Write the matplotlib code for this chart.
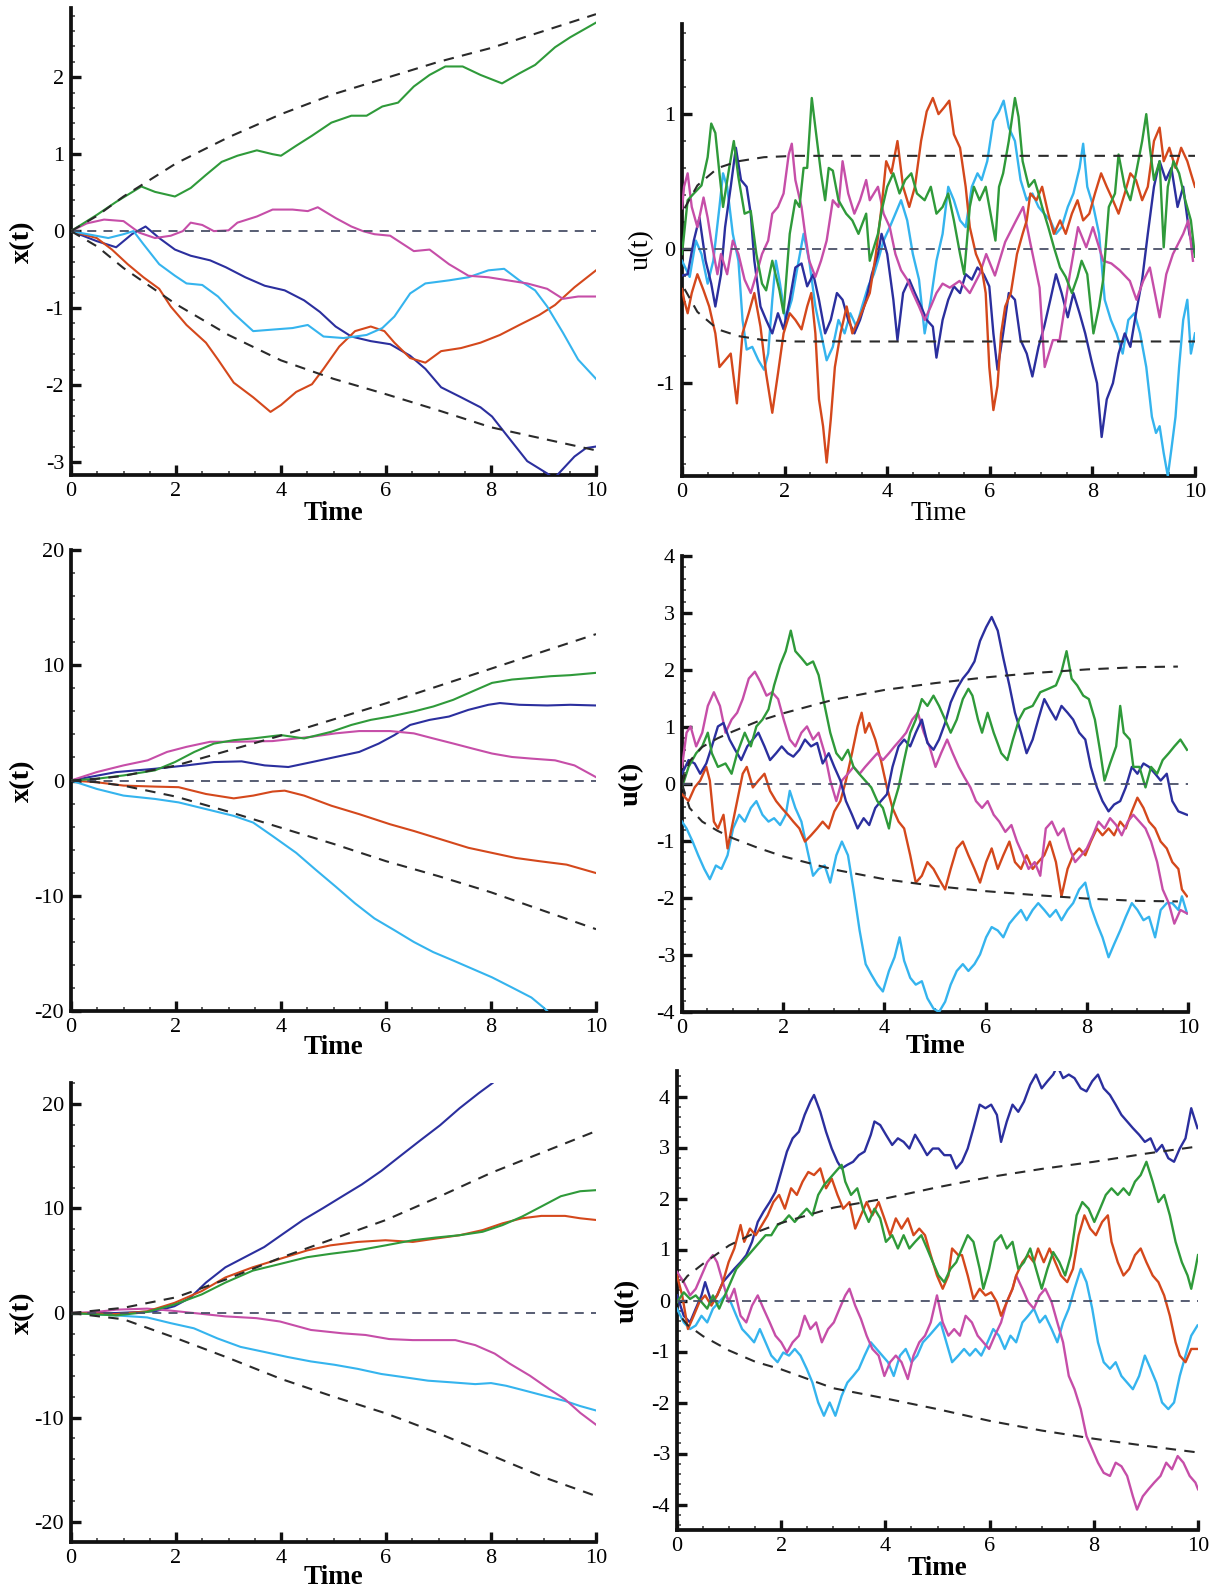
import numpy as np
import matplotlib
matplotlib.use("Agg")
import matplotlib.pyplot as plt
from matplotlib.ticker import MultipleLocator

plt.rcParams["font.family"] = ["Liberation Serif", "DejaVu Serif"]
plt.rcParams["axes.unicode_minus"] = False

GREEN = "#2f9a3a"
MAGENTA = "#c64ea8"
NAVY = "#2b2f9e"
CYAN = "#35b4ee"
ORANGE = "#d4481c"
DASH = "#2a2a2a"
ZERO = "#4a5068"

TIME_TICKS = [0, 2, 4, 6, 8, 10]

# ---------------- panel 1: x(t), small noise ----------------
p1_env_t = [0, 0.5, 1, 2, 3, 4, 5, 6, 7, 8, 9, 10]
p1_env_hi = [0, 0.2, 0.45, 0.88, 1.22, 1.52, 1.78, 1.99, 2.2, 2.38, 2.6, 2.82]
p1_env_lo = [0, -0.2, -0.48, -0.95, -1.35, -1.68, -1.92, -2.12, -2.33, -2.55, -2.7, -2.85]

p1_green_t = [0, 0.49, 0.86, 1.34, 1.6, 1.98, 2.28, 2.57, 2.87, 3.17, 3.54, 3.84, 4.0, 4.29, 4.59, 4.96,
              5.34, 5.63, 5.93, 6.23, 6.53, 6.83, 7.13, 7.46, 7.8, 8.21, 8.54, 8.84, 9.22, 9.51, 10]
p1_green_v = [0, 0.21, 0.38, 0.58, 0.51, 0.45, 0.56, 0.73, 0.9, 0.98, 1.05, 1.0, 0.98, 1.11, 1.24, 1.41,
              1.5, 1.5, 1.62, 1.67, 1.88, 2.03, 2.14, 2.14, 2.03, 1.92, 2.05, 2.16, 2.39, 2.52, 2.71]

p1_magenta_t = [0, 0.3, 0.63, 1.0, 1.3, 1.6, 1.9, 2.13, 2.28, 2.5, 2.72, 3.0, 3.17, 3.54, 3.84, 4.22, 4.51,
                4.7, 5.04, 5.34, 5.56, 5.78, 6.08, 6.53, 6.83, 7.2, 7.57, 7.95, 8.32, 8.69, 9.07, 9.37, 9.66, 10]
p1_magenta_v = [0, 0.1, 0.15, 0.13, -0.02, -0.09, -0.06, 0, 0.11, 0.08, 0, 0.01, 0.11, 0.19, 0.28, 0.28, 0.26,
                0.31, 0.17, 0.06, 0, -0.04, -0.06, -0.26, -0.24, -0.43, -0.58, -0.6, -0.64, -0.68, -0.75, -0.88, -0.85, -0.85]

p1_navy_t = [0, 0.49, 0.86, 1.16, 1.42, 1.68, 1.98, 2.28, 2.65, 2.95, 3.32, 3.69, 4.07, 4.44, 4.74, 5.04, 5.34,
             5.71, 6.08, 6.46, 6.75, 7.05, 7.43, 7.8, 8.02, 8.25, 8.47, 8.69, 9.07, 9.2, 9.29, 9.59, 9.81, 10]
p1_navy_v = [0, -0.13, -0.21, -0.04, 0.06, -0.09, -0.24, -0.32, -0.38, -0.47, -0.6, -0.71, -0.77, -0.9, -1.05,
             -1.24, -1.37, -1.43, -1.47, -1.62, -1.79, -2.03, -2.16, -2.29, -2.41, -2.61, -2.8, -2.99, -3.15,
             -3.22, -3.15, -2.93, -2.82, -2.8]

p1_cyan_t = [0, 0.71, 1.0, 1.19, 1.38, 1.68, 1.98, 2.2, 2.5, 2.8, 3.1, 3.47, 3.84, 4.22, 4.51, 4.81, 5.19, 5.63,
             5.93, 6.16, 6.46, 6.75, 7.2, 7.57, 7.95, 8.25, 8.54, 8.84, 9.07, 9.37, 9.66, 10]
p1_cyan_v = [0, -0.09, -0.04, 0, -0.17, -0.43, -0.58, -0.68, -0.7, -0.85, -1.07, -1.3, -1.28, -1.26, -1.22, -1.37,
             -1.39, -1.35, -1.26, -1.11, -0.81, -0.68, -0.64, -0.6, -0.51, -0.49, -0.64, -0.77, -0.98, -1.32, -1.67, -1.92]

p1_orange_t = [0, 0.49, 0.78, 1.08, 1.38, 1.68, 1.9, 2.2, 2.57, 2.8, 3.1, 3.47, 3.8, 4.0, 4.29, 4.59, 4.81, 5.11,
               5.41, 5.71, 5.97, 6.16, 6.46, 6.75, 7.05, 7.43, 7.8, 8.17, 8.54, 8.92, 9.22, 9.59, 10]
p1_orange_v = [0, -0.09, -0.24, -0.43, -0.6, -0.75, -0.98, -1.22, -1.45, -1.67, -1.97, -2.16, -2.35, -2.26, -2.09,
               -1.99, -1.79, -1.5, -1.3, -1.24, -1.3, -1.45, -1.65, -1.71, -1.56, -1.52, -1.45, -1.35, -1.22, -1.09,
               -0.96, -0.73, -0.51]

# ---------------- panel 2: u(t), small noise ----------------
p2_env_t = [0.05, 0.3, 0.7, 1.1, 1.6, 2.2, 10]
p2_env_hi = [0.3, 0.47, 0.6, 0.65, 0.68, 0.69, 0.69]
p2_env_lo = [-0.3, -0.47, -0.6, -0.65, -0.68, -0.69, -0.69]

p2_green = [(0, -0.04), (0.11, 0.36), (0.23, 0.41), (0.38, 0.47), (0.5, 0.68), (0.57, 0.93), (0.65, 0.86),
            (0.73, 0.56), (0.8, 0.31), (0.92, 0.6), (1.01, 0.8), (1.1, 0.53), (1.22, 0.26), (1.34, 0.28),
            (1.45, -0.04), (1.56, -0.26), (1.64, -0.31), (1.76, -0.09), (1.9, -0.31), (1.98, -0.48), (2.1, 0.11),
            (2.21, 0.36), (2.29, 0.31), (2.37, 0.6), (2.44, 0.6), (2.53, 1.12), (2.6, 0.9), (2.71, 0.56),
            (2.79, 0.36), (2.86, 0.6), (2.94, 0.58), (3.05, 0.36), (3.2, 0.26), (3.32, 0.21), (3.44, 0.11),
            (3.59, 0.26), (3.66, -0.09), (3.82, 0.11), (3.89, 0.28), (4.0, 0.46), (4.12, 0.56), (4.24, 0.41),
            (4.35, 0.51), (4.47, 0.56), (4.58, 0.41), (4.73, 0.36), (4.85, 0.46), (4.96, 0.26), (5.08, 0.31),
            (5.19, 0.41), (5.3, 0.21), (5.42, -0.04), (5.5, -0.19), (5.61, 0.31), (5.69, 0.46), (5.8, 0.36),
            (5.92, 0.46), (6.03, 0.23), (6.11, 0.06), (6.18, 0.46), (6.26, 0.56), (6.37, 0.8), (6.49, 1.12),
            (6.56, 0.98), (6.64, 0.65), (6.76, 0.46), (6.87, 0.51), (6.95, 0.41), (7.02, 0.31), (7.14, 0.16),
            (7.25, 0.01), (7.37, -0.14), (7.48, -0.21), (7.6, -0.33), (7.71, -0.21), (7.79, -0.09), (7.9, -0.19),
            (8.02, -0.63), (8.13, -0.43), (8.21, -0.23), (8.32, 0.31), (8.44, 0.41), (8.51, 0.7), (8.63, 0.46),
            (8.74, 0.36), (8.85, 0.56), (8.97, 0.8), (9.05, 1.0), (9.12, 0.75), (9.2, 0.51), (9.31, 0.65),
            (9.39, 0.01), (9.47, 0.46), (9.58, 0.65), (9.69, 0.56), (9.81, 0.36), (9.92, 0.21), (10, -0.06)]

p2_magenta = [(0.0, 0.3), (0.04, 0.46), (0.11, 0.56), (0.19, 0.31), (0.3, 0.16), (0.42, 0.38), (0.5, 0.23),
              (0.57, 0.06), (0.69, -0.19), (0.76, -0.04), (0.88, -0.19), (0.99, 0.06), (1.1, -0.04), (1.22, -0.23),
              (1.34, -0.33), (1.45, -0.19), (1.56, -0.04), (1.68, 0.06), (1.76, 0.26), (1.87, 0.31), (1.98, 0.41),
              (2.08, 0.7), (2.14, 0.78), (2.21, 0.51), (2.33, 0.31), (2.4, 0.11), (2.48, -0.09), (2.6, -0.21),
              (2.71, -0.09), (2.82, 0.06), (2.94, 0.36), (3.05, 0.31), (3.13, 0.65), (3.24, 0.41), (3.36, 0.26),
              (3.47, 0.36), (3.59, 0.51), (3.66, 0.36), (3.82, 0.46), (3.93, 0.26), (4.05, 0.16), (4.16, -0.04),
              (4.27, -0.16), (4.39, -0.23), (4.5, -0.33), (4.62, -0.43), (4.73, -0.53), (4.85, -0.43),
              (4.96, -0.33), (5.08, -0.26), (5.22, -0.29), (5.41, -0.24), (5.61, -0.33), (5.8, -0.19),
              (5.93, -0.04), (6.1, -0.2), (6.3, 0.05), (6.5, 0.2), (6.65, 0.31), (6.78, 0.06), (6.97, -0.29),
              (7.07, -0.88), (7.23, -0.68), (7.36, -0.68), (7.56, -0.19), (7.72, 0.16), (7.88, 0.01), (8.01, 0.16),
              (8.21, -0.09), (8.37, -0.11), (8.53, -0.16), (8.73, -0.24), (8.86, -0.38), (8.99, -0.24),
              (9.12, -0.14), (9.31, -0.51), (9.44, -0.19), (9.57, -0.04), (9.77, 0.11), (9.87, 0.21), (9.96, -0.09)]

p2_navy = [(0, -0.2), (0.11, -0.19), (0.23, 0.06), (0.34, 0.23), (0.46, -0.09), (0.57, -0.26), (0.65, -0.43),
           (0.76, -0.19), (0.84, 0.16), (0.95, 0.46), (1.05, 0.75), (1.15, 0.51), (1.26, 0.46), (1.34, 0.26),
           (1.41, -0.09), (1.53, -0.43), (1.64, -0.53), (1.76, -0.63), (1.87, -0.48), (1.98, -0.6), (2.1, -0.38),
           (2.21, -0.14), (2.33, -0.11), (2.44, -0.28), (2.56, -0.19), (2.67, -0.38), (2.79, -0.63), (2.9, -0.53),
           (3.02, -0.33), (3.13, -0.38), (3.24, -0.53), (3.36, -0.63), (3.47, -0.53), (3.59, -0.38), (3.7, -0.19),
           (3.82, -0.04), (3.89, 0.11), (4.0, -0.04), (4.12, -0.38), (4.2, -0.68), (4.31, -0.33), (4.43, -0.23),
           (4.54, -0.33), (4.66, -0.43), (4.77, -0.53), (4.89, -0.58), (4.96, -0.81), (5.08, -0.53), (5.19, -0.38),
           (5.3, -0.28), (5.42, -0.33), (5.53, -0.19), (5.65, -0.23), (5.76, -0.14), (5.88, -0.19), (5.99, -0.28),
           (6.07, -0.63), (6.15, -0.9), (6.26, -0.63), (6.37, -0.33), (6.49, -0.38), (6.6, -0.68), (6.72, -0.78),
           (6.83, -0.95), (6.95, -0.73), (7.06, -0.58), (7.18, -0.38), (7.29, -0.19), (7.4, -0.33), (7.52, -0.51),
           (7.63, -0.33), (7.75, -0.48), (7.86, -0.63), (7.98, -0.83), (8.09, -1.0), (8.18, -1.4), (8.28, -1.12),
           (8.4, -1.0), (8.51, -0.78), (8.63, -0.63), (8.74, -0.73), (8.85, -0.48), (8.97, -0.23), (9.08, 0.11),
           (9.2, 0.46), (9.31, 0.65), (9.43, 0.51), (9.54, 0.6), (9.66, 0.31), (9.77, 0.46), (9.89, 0.11),
           (10, -0.04)]

p2_cyan = [(0, -0.09), (0.15, -0.21), (0.27, 0.06), (0.38, -0.04), (0.5, -0.26), (0.61, -0.09), (0.73, 0.31),
           (0.8, 0.56), (0.88, 0.46), (0.99, 0.11), (1.1, -0.09), (1.18, -0.53), (1.26, -0.75), (1.37, -0.73),
           (1.49, -0.83), (1.6, -0.9), (1.68, -0.78), (1.76, -0.38), (1.83, -0.09), (1.91, -0.26), (2.02, -0.53),
           (2.14, -0.38), (2.25, -0.14), (2.37, 0.11), (2.48, -0.09), (2.6, -0.43), (2.71, -0.63), (2.82, -0.83),
           (2.94, -0.73), (3.05, -0.53), (3.17, -0.63), (3.28, -0.48), (3.4, -0.58), (3.51, -0.43), (3.63, -0.28),
           (3.74, -0.19), (3.82, -0.09), (3.93, 0.06), (4.05, 0.16), (4.16, 0.26), (4.27, 0.36), (4.39, 0.21),
           (4.5, -0.04), (4.62, -0.23), (4.73, -0.63), (4.85, -0.38), (4.96, -0.09), (5.08, 0.11), (5.19, 0.46),
           (5.3, 0.36), (5.42, 0.21), (5.53, 0.16), (5.65, 0.46), (5.76, 0.56), (5.84, 0.51), (5.95, 0.65),
           (6.07, 0.95), (6.18, 1.02), (6.27, 1.1), (6.37, 0.9), (6.49, 0.8), (6.6, 0.51), (6.72, 0.36),
           (6.83, 0.41), (6.95, 0.31), (7.06, 0.26), (7.18, 0.21), (7.29, 0.11), (7.4, 0.16), (7.52, 0.31),
           (7.63, 0.41), (7.75, 0.6), (7.82, 0.78), (7.9, 0.46), (8.02, 0.31), (8.13, 0.11), (8.24, -0.38),
           (8.36, -0.53), (8.47, -0.63), (8.59, -0.78), (8.7, -0.53), (8.82, -0.48), (8.93, -0.63), (9.05, -0.88),
           (9.16, -1.25), (9.24, -1.37), (9.31, -1.32), (9.39, -1.52), (9.47, -1.69), (9.54, -1.49),
           (9.62, -1.25), (9.69, -0.88), (9.77, -0.53), (9.85, -0.38), (9.92, -0.78), (10, -0.63)]

p2_orange = [(0, -0.3), (0.04, -0.38), (0.11, -0.48), (0.19, -0.33), (0.3, -0.19), (0.42, -0.31), (0.53, -0.43),
             (0.65, -0.63), (0.73, -0.88), (0.84, -0.83), (0.95, -0.78), (1.07, -1.15), (1.18, -0.63),
             (1.3, -0.48), (1.41, -0.33), (1.53, -0.58), (1.64, -0.93), (1.76, -1.22), (1.87, -0.93),
             (1.98, -0.63), (2.1, -0.48), (2.21, -0.53), (2.33, -0.6), (2.44, -0.43), (2.52, -0.33), (2.6, -0.63),
             (2.67, -1.12), (2.75, -1.32), (2.82, -1.59), (2.9, -1.27), (2.98, -0.88), (3.09, -0.63),
             (3.21, -0.43), (3.32, -0.63), (3.44, -0.53), (3.55, -0.43), (3.66, -0.33), (3.78, -0.04),
             (3.89, 0.31), (3.98, 0.65), (4.08, 0.56), (4.2, 0.8), (4.31, 0.46), (4.43, 0.31), (4.54, 0.46),
             (4.66, 0.8), (4.77, 1.02), (4.89, 1.12), (5.0, 1.0), (5.11, 1.05), (5.21, 1.1), (5.3, 0.85),
             (5.42, 0.75), (5.53, 0.46), (5.61, 0.16), (5.73, -0.04), (5.84, -0.14), (5.92, -0.33), (5.99, -0.88),
             (6.07, -1.2), (6.15, -1.02), (6.22, -0.63), (6.3, -0.43), (6.41, -0.33), (6.53, -0.04), (6.64, 0.11),
             (6.72, 0.21), (6.79, 0.41), (6.91, 0.36), (7.02, 0.46), (7.14, 0.26), (7.25, 0.11), (7.37, 0.21),
             (7.48, 0.11), (7.6, 0.26), (7.71, 0.36), (7.82, 0.21), (7.94, 0.26), (8.05, 0.41), (8.17, 0.56),
             (8.28, 0.46), (8.4, 0.36), (8.51, 0.26), (8.63, 0.41), (8.74, 0.56), (8.85, 0.51), (8.97, 0.36),
             (9.08, 0.46), (9.2, 0.8), (9.31, 0.9), (9.39, 0.65), (9.5, 0.75), (9.62, 0.6), (9.73, 0.75),
             (9.85, 0.65), (9.92, 0.56), (10, 0.46)]

# ---------------- panel 3: x(t), medium noise ----------------
p3_env_t = [0, 0.5, 1, 2, 3, 4, 5, 6, 7, 8, 9, 10]
p3_env_hi = [0, 0.15, 0.4, 1.3, 2.6, 3.9, 5.3, 6.7, 8.2, 9.7, 11.2, 12.7]
p3_env_lo = [0, -0.15, -0.45, -1.4, -2.7, -4.1, -5.5, -7.0, -8.3, -9.7, -11.3, -12.9]

p3_green_t = [0, 0.49, 1.0, 1.6, 1.98, 2.35, 2.72, 3.1, 3.47, 4.0, 4.44, 4.96, 5.34, 5.71, 6.08, 6.53, 6.9,
              7.28, 7.65, 8.02, 8.4, 8.77, 9.14, 9.51, 10]
p3_green_v = [0, 0.15, 0.44, 0.88, 1.6, 2.48, 3.2, 3.5, 3.65, 3.94, 3.65, 4.23, 4.82, 5.26, 5.55, 5.99, 6.42,
              7.0, 7.74, 8.47, 8.76, 8.9, 9.05, 9.14, 9.34]

p3_magenta_t = [0, 0.49, 1.0, 1.46, 1.83, 2.2, 2.65, 3.1, 3.84, 4.59, 5.04, 5.49, 6.08, 6.53, 6.9, 7.28, 7.65,
                8.02, 8.4, 8.77, 9.22, 9.59, 10]
p3_magenta_v = [0, 0.73, 1.31, 1.75, 2.48, 2.92, 3.36, 3.36, 3.42, 3.8, 4.09, 4.29, 4.29, 4.09, 3.65, 3.21, 2.77,
                2.34, 2.04, 1.9, 1.75, 1.31, 0.29]

p3_navy_t = [0, 0.86, 1.6, 2.2, 2.72, 3.25, 3.69, 4.14, 4.59, 5.04, 5.49, 5.86, 6.16, 6.46, 6.83, 7.2, 7.57,
             7.95, 8.17, 8.54, 9.07, 9.51, 10]
p3_navy_v = [0, 0.73, 1.02, 1.31, 1.6, 1.66, 1.31, 1.17, 1.6, 2.04, 2.48, 3.2, 3.94, 4.82, 5.26, 5.55, 6.13,
             6.57, 6.72, 6.57, 6.51, 6.57, 6.51]

p3_orange_t = [0, 0.49, 1.0, 1.6, 2.05, 2.57, 3.1, 3.47, 3.84, 4.07, 4.44, 4.96, 5.49, 6.08, 6.53, 7.05, 7.57,
               8.02, 8.47, 8.92, 9.44, 10]
p3_orange_v = [0, -0.15, -0.44, -0.53, -0.58, -1.17, -1.55, -1.31, -0.96, -0.88, -1.31, -2.19, -2.92, -3.8,
               -4.38, -5.11, -5.84, -6.28, -6.72, -7.0, -7.3, -8.03]

p3_cyan_t = [0, 0.49, 1.0, 1.6, 2.05, 2.57, 3.1, 3.47, 3.84, 4.29, 4.66, 5.04, 5.41, 5.78, 6.16, 6.53, 6.9,
             7.28, 7.65, 8.02, 8.4, 8.77, 9.0, 9.14]
p3_cyan_v = [0, -0.73, -1.31, -1.6, -1.9, -2.48, -3.07, -3.65, -4.82, -6.28, -7.74, -9.2, -10.66, -11.97,
             -12.99, -14.01, -14.89, -15.62, -16.35, -17.08, -17.96, -18.83, -19.7, -20.3]

# ---------------- panel 4: u(t), medium noise ----------------
p4_env_t = [0, 0.15, 0.4, 0.7, 1.0, 1.5, 2, 3, 4, 5, 6, 7, 8, 9, 9.8]
p4_env_hi = [0, 0.4, 0.65, 0.8, 0.92, 1.1, 1.24, 1.48, 1.65, 1.77, 1.87, 1.95, 2.01, 2.05, 2.06]
p4_env_lo = [0, -0.42, -0.66, -0.82, -0.95, -1.12, -1.27, -1.5, -1.67, -1.79, -1.88, -1.95, -2.01, -2.05, -2.06]

p4_green = [(0, -0.06), (0.13, 0.3), (0.28, 0.54), (0.4, 0.66), (0.51, 0.9), (0.59, 0.54), (0.71, 0.3),
            (0.86, 0.36), (0.98, 0.18), (1.09, 0.54), (1.24, 0.9), (1.36, 0.66), (1.47, 1.01), (1.59, 1.13),
            (1.71, 1.31), (1.82, 1.73), (1.94, 2.09), (2.05, 2.33), (2.15, 2.69), (2.24, 2.33), (2.36, 2.21),
            (2.47, 2.09), (2.59, 2.15), (2.7, 1.91), (2.82, 1.37), (2.93, 0.9), (3.05, 0.54), (3.16, 0.42),
            (3.28, 0.6), (3.39, 0.3), (3.5, 0.18), (3.62, 0.06), (3.74, -0.06), (3.86, -0.3), (3.97, -0.42),
            (4.09, -0.78), (4.16, -0.42), (4.28, -0.06), (4.39, 0.42), (4.51, 0.9), (4.62, 1.13), (4.74, 1.49),
            (4.85, 1.37), (4.97, 1.55), (5.08, 1.37), (5.2, 1.13), (5.31, 0.9), (5.43, 1.13), (5.55, 1.49),
            (5.66, 1.67), (5.74, 1.55), (5.85, 1.13), (5.93, 0.9), (6.04, 1.25), (6.16, 0.9), (6.31, 0.54),
            (6.43, 0.42), (6.54, 0.78), (6.66, 1.13), (6.77, 1.31), (6.93, 1.37), (7.08, 1.61), (7.24, 1.67),
            (7.39, 1.73), (7.5, 1.97), (7.6, 2.33), (7.7, 1.85), (7.81, 1.73), (7.93, 1.55), (8.04, 1.49),
            (8.16, 1.13), (8.27, 0.54), (8.35, 0.06), (8.46, 0.36), (8.58, 0.66), (8.66, 1.37), (8.73, 0.9),
            (8.85, 0.78), (8.92, 0.3), (9.04, 0.3), (9.16, -0.06), (9.27, 0.3), (9.39, 0.18), (9.5, 0.42),
            (9.62, 0.54), (9.73, 0.66), (9.85, 0.78), (9.98, 0.6)]

p4_navy = [(0, 0.18), (0.13, 0.42), (0.25, 0.36), (0.36, 0.18), (0.48, 0.36), (0.59, 0.66), (0.71, 1.01),
           (0.82, 1.07), (0.94, 0.78), (1.05, 0.6), (1.17, 0.42), (1.29, 0.66), (1.4, 0.78), (1.51, 0.9),
           (1.63, 0.66), (1.74, 0.42), (1.86, 0.54), (1.97, 0.66), (2.09, 0.54), (2.2, 0.48), (2.32, 0.6),
           (2.43, 0.78), (2.55, 0.66), (2.67, 0.72), (2.78, 0.36), (2.9, 0.54), (3.01, 0.3), (3.13, 0.06),
           (3.24, -0.3), (3.36, -0.54), (3.47, -0.78), (3.59, -0.6), (3.7, -0.72), (3.82, -0.42), (3.93, -0.3),
           (4.05, -0.18), (4.16, 0.3), (4.28, 0.66), (4.39, 0.78), (4.51, 0.66), (4.62, 0.9), (4.74, 1.13),
           (4.85, 0.72), (4.97, 0.6), (5.08, 0.78), (5.2, 1.07), (5.31, 1.43), (5.43, 1.67), (5.55, 1.85),
           (5.66, 1.97), (5.78, 2.15), (5.89, 2.51), (6.01, 2.75), (6.12, 2.93), (6.24, 2.69), (6.35, 2.21),
           (6.47, 1.73), (6.58, 1.25), (6.7, 0.9), (6.81, 0.54), (6.93, 0.78), (7.04, 1.13), (7.16, 1.49),
           (7.27, 1.31), (7.39, 1.13), (7.5, 1.37), (7.62, 1.25), (7.73, 1.13), (7.85, 0.9), (7.97, 0.78),
           (8.08, 0.3), (8.2, -0.06), (8.31, -0.3), (8.43, -0.48), (8.54, -0.36), (8.66, -0.3), (8.77, -0.06),
           (8.89, 0.3), (9.0, 0.18), (9.12, 0.36), (9.23, 0.3), (9.35, 0.18), (9.46, 0.06), (9.58, 0.18),
           (9.69, -0.3), (9.81, -0.48), (9.98, -0.54)]

p4_magenta = [(0, 0.3), (0.09, 0.9), (0.17, 1.01), (0.28, 0.66), (0.4, 0.9), (0.51, 1.37), (0.63, 1.61),
              (0.75, 1.37), (0.86, 0.9), (0.98, 1.13), (1.09, 1.25), (1.2, 1.49), (1.32, 1.85), (1.44, 1.97),
              (1.55, 1.79), (1.67, 1.55), (1.78, 1.61), (1.9, 1.49), (2.01, 1.13), (2.13, 0.78), (2.24, 0.66),
              (2.36, 0.9), (2.47, 1.01), (2.59, 0.78), (2.7, 0.9), (2.82, 0.54), (2.93, 0.06), (3.05, -0.3),
              (3.16, 0.06), (3.28, 0.18), (3.39, 0.3), (3.51, 0.18), (3.62, 0.3), (3.74, 0.42), (3.86, 0.54),
              (3.97, 0.42), (4.09, 0.54), (4.2, 0.66), (4.32, 0.78), (4.43, 0.9), (4.55, 1.13), (4.66, 1.25),
              (4.78, 0.9), (4.89, 0.66), (5.01, 0.3), (5.12, 0.54), (5.24, 0.78), (5.35, 0.54), (5.47, 0.3),
              (5.58, 0.12), (5.7, -0.06), (5.81, -0.3), (5.93, -0.42), (6.04, -0.3), (6.16, -0.54), (6.27, -0.66),
              (6.39, -0.84), (6.51, -0.72), (6.62, -1.01), (6.74, -1.25), (6.85, -1.49), (6.97, -1.37),
              (7.08, -1.61), (7.19, -0.78), (7.31, -0.66), (7.43, -0.9), (7.54, -0.78), (7.66, -1.13),
              (7.77, -1.37), (7.89, -1.25), (8.0, -1.13), (8.12, -0.9), (8.23, -0.66), (8.35, -0.78),
              (8.46, -0.6), (8.58, -0.72), (8.69, -0.9), (8.81, -0.66), (8.92, -0.54), (9.04, -0.66),
              (9.16, -0.78), (9.27, -1.01), (9.39, -1.37), (9.5, -1.85), (9.62, -2.09), (9.73, -2.45),
              (9.85, -2.21), (9.98, -2.27)]

p4_orange = [(0, -0.18), (0.13, -0.3), (0.25, -0.06), (0.36, 0.06), (0.48, 0.3), (0.55, 0.06), (0.63, -0.66),
             (0.71, -0.78), (0.82, -0.54), (0.9, -1.13), (0.98, -0.78), (1.09, -0.3), (1.2, 0.18), (1.28, 0.3),
             (1.4, -0.06), (1.51, 0.06), (1.63, 0.18), (1.74, -0.12), (1.86, -0.3), (1.97, -0.42), (2.09, -0.54),
             (2.2, -0.66), (2.32, -0.78), (2.43, -1.01), (2.55, -0.9), (2.67, -0.78), (2.78, -0.66), (2.9, -0.78),
             (3.01, -0.48), (3.13, -0.3), (3.24, 0.06), (3.36, 0.54), (3.47, 1.01), (3.55, 1.25), (3.62, 0.9),
             (3.7, 1.07), (3.82, 0.78), (3.93, 0.42), (4.05, -0.06), (4.16, -0.42), (4.28, -0.66), (4.39, -0.78),
             (4.51, -1.25), (4.62, -1.73), (4.74, -1.61), (4.85, -1.37), (4.97, -1.49), (5.08, -1.67),
             (5.2, -1.85), (5.31, -1.49), (5.43, -1.13), (5.55, -1.01), (5.66, -1.25), (5.78, -1.49),
             (5.89, -1.73), (6.01, -1.37), (6.12, -1.13), (6.24, -1.49), (6.35, -1.25), (6.47, -1.01),
             (6.58, -1.37), (6.7, -1.49), (6.81, -1.25), (6.93, -1.49), (7.04, -1.37), (7.16, -1.25),
             (7.27, -1.01), (7.39, -1.37), (7.5, -1.97), (7.62, -1.49), (7.73, -1.25), (7.85, -1.13),
             (7.97, -1.25), (8.08, -1.01), (8.2, -0.78), (8.31, -0.9), (8.43, -0.78), (8.54, -0.9), (8.66, -0.66),
             (8.77, -0.78), (8.89, -0.48), (9.0, -0.24), (9.12, -0.42), (9.23, -0.66), (9.35, -0.78),
             (9.46, -1.01), (9.58, -1.13), (9.69, -1.37), (9.81, -1.49), (9.88, -1.85), (9.98, -1.97)]

p4_cyan = [(0, -0.66), (0.09, -0.78), (0.21, -1.01), (0.32, -1.25), (0.44, -1.49), (0.55, -1.67), (0.67, -1.43),
           (0.78, -1.49), (0.9, -1.25), (1.01, -0.78), (1.13, -0.54), (1.24, -0.66), (1.36, -0.42), (1.47, -0.3),
           (1.59, -0.54), (1.71, -0.66), (1.82, -0.6), (1.94, -0.72), (2.05, -0.54), (2.13, -0.12), (2.24, -0.42),
           (2.36, -0.66), (2.47, -1.13), (2.59, -1.61), (2.7, -1.49), (2.82, -1.43), (2.93, -1.73), (3.05, -1.25),
           (3.16, -1.01), (3.28, -1.25), (3.39, -1.85), (3.51, -2.57), (3.63, -3.16), (3.74, -3.34),
           (3.86, -3.52), (3.97, -3.64), (4.09, -3.28), (4.2, -3.04), (4.3, -2.69), (4.39, -3.1), (4.51, -3.4),
           (4.62, -3.52), (4.74, -3.46), (4.85, -3.76), (4.97, -3.94), (5.08, -4.0), (5.2, -3.82), (5.31, -3.52),
           (5.43, -3.28), (5.55, -3.16), (5.66, -3.28), (5.78, -3.16), (5.89, -2.99), (6.01, -2.69),
           (6.12, -2.51), (6.24, -2.57), (6.35, -2.69), (6.47, -2.45), (6.58, -2.33), (6.7, -2.21),
           (6.81, -2.39), (6.93, -2.21), (7.04, -2.09), (7.16, -2.21), (7.27, -2.33), (7.39, -2.21), (7.5, -2.39),
           (7.62, -2.21), (7.73, -2.09), (7.85, -1.85), (7.97, -1.73), (8.08, -2.15), (8.2, -2.45), (8.31, -2.69),
           (8.43, -3.04), (8.54, -2.81), (8.66, -2.57), (8.77, -2.33), (8.89, -2.09), (9.0, -2.21), (9.12, -2.39),
           (9.23, -2.33), (9.35, -2.69), (9.46, -2.21), (9.58, -2.09), (9.69, -2.09), (9.81, -2.21),
           (9.88, -1.97), (9.98, -2.27)]

# ---------------- panel 5: x(t), large noise ----------------
p5_env_t = [0, 1, 2, 3, 4, 5, 6, 7, 8, 9, 10]
p5_env_hi = [0, 0.5, 1.5, 3.3, 5.3, 7.1, 8.9, 11.1, 13.4, 15.4, 17.4]
p5_env_lo = [0, -0.6, -2.4, -4.3, -6.3, -8.0, -9.6, -11.5, -13.6, -15.7, -17.5]

p5_navy_t = [0, 0.86, 1.6, 1.97, 2.27, 2.57, 2.94, 3.31, 3.68, 4.05, 4.42, 4.8, 5.17, 5.54, 5.91, 6.28, 6.65,
             7.03, 7.4, 7.77, 8.03]
p5_navy_v = [0, 0, 0.16, 0.65, 1.46, 2.91, 4.37, 5.34, 6.31, 7.61, 8.9, 10.03, 11.17, 12.3, 13.59, 15.05, 16.5,
             17.96, 19.58, 21.04, 22.0]

p5_orange_t = [0, 0.86, 1.45, 1.97, 2.49, 2.94, 3.46, 3.98, 4.5, 4.94, 5.46, 5.99, 6.51, 6.95, 7.4, 7.84, 8.22,
               8.59, 8.96, 9.41, 9.7, 10]
p5_orange_v = [0, -0.1, 0.16, 0.97, 2.1, 3.4, 4.37, 5.18, 5.99, 6.47, 6.8, 6.96, 6.8, 7.12, 7.44, 7.93, 8.58,
               9.06, 9.29, 9.29, 9.06, 8.9]

p5_green_t = [0, 0.86, 1.45, 1.97, 2.49, 2.94, 3.46, 3.98, 4.5, 4.94, 5.46, 5.99, 6.51, 6.95, 7.4, 7.84, 8.22,
              8.59, 8.96, 9.33, 9.7, 10]
p5_green_v = [0, -0.23, 0.1, 0.81, 1.78, 2.91, 4.05, 4.69, 5.34, 5.66, 5.99, 6.47, 6.96, 7.22, 7.44, 7.77,
              8.41, 9.22, 10.19, 11.17, 11.65, 11.75]

p5_magenta_t = [0, 0.48, 0.86, 1.45, 1.9, 2.34, 2.94, 3.53, 3.98, 4.57, 5.17, 5.61, 6.06, 6.51, 6.95, 7.32, 7.7,
                8.07, 8.36, 8.74, 9.11, 9.41, 9.7, 10]
p5_magenta_v = [0, 0.1, 0.32, 0.42, 0.23, 0, -0.32, -0.49, -0.81, -1.62, -1.94, -2.1, -2.49, -2.59, -2.59,
                -2.59, -3.07, -3.88, -4.85, -5.99, -7.28, -8.25, -9.55, -10.68]

p5_cyan_t = [0, 0.86, 1.45, 1.9, 2.34, 2.79, 3.23, 3.68, 4.13, 4.57, 5.02, 5.46, 5.91, 6.36, 6.8, 7.25, 7.7, 8.0,
             8.29, 8.66, 9.03, 9.41, 9.7, 10]
p5_cyan_v = [0, -0.23, -0.42, -0.97, -1.46, -2.43, -3.24, -3.72, -4.21, -4.63, -4.95, -5.34, -5.83, -6.15,
             -6.47, -6.63, -6.8, -6.7, -6.96, -7.44, -7.93, -8.41, -8.9, -9.32]

# ---------------- panel 6: u(t), large noise ----------------
p6_env_t = [0.1, 0.2, 0.5, 1, 1.5, 2, 3, 4, 5, 6, 7, 8, 9, 10]
p6_env_hi = [0.35, 0.48, 0.72, 1.08, 1.33, 1.52, 1.82, 2.0, 2.22, 2.42, 2.58, 2.72, 2.88, 3.02]
p6_env_lo = [-0.35, -0.48, -0.7, -0.98, -1.2, -1.35, -1.72, -1.92, -2.13, -2.36, -2.55, -2.71, -2.85, -2.98]

p6_navy = [(0, 0.1), (0.13, -0.3), (0.25, -0.43), (0.36, -0.16), (0.47, 0.1), (0.54, 0.36), (0.66, -0.03),
           (0.77, 0.1), (0.88, 0.36), (0.99, 0.49), (1.1, 0.62), (1.22, 0.75), (1.33, 0.89), (1.44, 1.15),
           (1.55, 1.54), (1.66, 1.74), (1.78, 1.93), (1.89, 2.13), (2.0, 2.52), (2.11, 2.92), (2.22, 3.18),
           (2.34, 3.31), (2.45, 3.64), (2.56, 3.9), (2.63, 4.03), (2.75, 3.7), (2.86, 3.31), (2.97, 2.98),
           (3.08, 2.72), (3.16, 2.59), (3.27, 2.66), (3.38, 2.72), (3.49, 2.85), (3.6, 2.92), (3.72, 3.25),
           (3.79, 3.51), (3.9, 3.44), (4.01, 3.25), (4.13, 3.05), (4.24, 3.18), (4.35, 3.11), (4.46, 2.98),
           (4.57, 3.25), (4.69, 3.05), (4.8, 2.85), (4.91, 2.98), (5.02, 2.98), (5.13, 2.85), (5.25, 2.85),
           (5.36, 2.59), (5.47, 2.72), (5.58, 2.98), (5.69, 3.38), (5.81, 3.84), (5.92, 3.77), (6.03, 3.84),
           (6.14, 3.64), (6.22, 3.11), (6.33, 3.51), (6.44, 3.84), (6.55, 3.7), (6.66, 3.9), (6.78, 4.23),
           (6.89, 4.43), (7.0, 4.16), (7.11, 4.3), (7.22, 4.43), (7.3, 4.6), (7.41, 4.36), (7.52, 4.43),
           (7.63, 4.36), (7.75, 4.16), (7.86, 4.1), (7.97, 4.3), (8.08, 4.43), (8.19, 4.16), (8.31, 4.03),
           (8.42, 3.84), (8.53, 3.64), (8.64, 3.51), (8.75, 3.38), (8.87, 3.25), (8.98, 3.11), (9.09, 3.18),
           (9.2, 2.92), (9.31, 3.05), (9.43, 2.79), (9.54, 2.72), (9.65, 2.98), (9.76, 3.18), (9.87, 3.77),
           (9.99, 3.38)]

p6_orange = [(0, 0.49), (0.1, 0.1), (0.21, -0.56), (0.32, -0.3), (0.43, -0.03), (0.54, 0.1), (0.66, -0.1),
             (0.77, 0.1), (0.88, 0.36), (0.99, 0.75), (1.1, 1.02), (1.22, 1.48), (1.29, 1.15), (1.4, 1.41),
             (1.51, 1.28), (1.63, 1.48), (1.74, 1.67), (1.85, 1.93), (1.96, 2.07), (2.07, 1.8), (2.19, 2.2),
             (2.3, 2.07), (2.41, 2.33), (2.52, 2.52), (2.63, 2.46), (2.75, 2.59), (2.86, 2.2), (2.97, 2.39),
             (3.08, 2.07), (3.19, 1.8), (3.31, 1.93), (3.42, 1.41), (3.53, 1.67), (3.64, 1.93), (3.75, 1.67),
             (3.87, 1.93), (3.98, 1.61), (4.09, 1.28), (4.2, 1.61), (4.31, 1.41), (4.43, 1.61), (4.54, 1.28),
             (4.65, 1.41), (4.76, 1.28), (4.87, 0.89), (4.99, 0.49), (5.1, 0.23), (5.21, 0.49), (5.28, 1.02),
             (5.4, 0.89), (5.47, 0.89), (5.58, 0.49), (5.69, 0.03), (5.81, 0.23), (5.92, 0.1), (6.03, 0.16),
             (6.14, -0.03), (6.22, -0.3), (6.33, -0.03), (6.44, 0.23), (6.51, 0.49), (6.63, 0.75), (6.74, 0.89),
             (6.85, 0.75), (6.93, 1.02), (7.04, 0.75), (7.15, 1.02), (7.26, 0.75), (7.37, 0.49), (7.49, 0.36),
             (7.6, 0.62), (7.71, 1.28), (7.82, 1.67), (7.93, 1.41), (8.04, 1.28), (8.16, 1.54), (8.27, 1.67),
             (8.34, 1.15), (8.46, 0.75), (8.57, 0.49), (8.68, 0.62), (8.79, 0.89), (8.9, 1.02), (9.01, 0.75),
             (9.13, 0.49), (9.24, 0.36), (9.35, 0.1), (9.46, -0.3), (9.57, -0.82), (9.65, -1.08), (9.76, -1.21),
             (9.87, -0.95), (9.99, -0.95)]

p6_green = [(0, -0.03), (0.13, 0.16), (0.25, 0.03), (0.36, 0.1), (0.47, -0.03), (0.58, -0.16), (0.69, 0.1),
            (0.81, -0.16), (0.92, 0.1), (1.03, 0.36), (1.14, 0.62), (1.25, 0.75), (1.37, 0.89), (1.48, 1.02),
            (1.59, 1.15), (1.7, 1.28), (1.81, 1.28), (1.93, 1.48), (2.04, 1.54), (2.15, 1.67), (2.26, 1.54),
            (2.37, 1.67), (2.49, 1.8), (2.6, 1.67), (2.71, 2.07), (2.82, 2.26), (2.93, 2.39), (3.04, 2.52),
            (3.16, 2.66), (3.23, 2.33), (3.34, 2.07), (3.46, 2.2), (3.57, 1.8), (3.68, 1.54), (3.79, 1.8),
            (3.9, 1.61), (4.01, 1.15), (4.13, 1.28), (4.24, 1.02), (4.35, 1.28), (4.46, 1.02), (4.57, 1.15),
            (4.69, 1.28), (4.8, 1.02), (4.91, 0.75), (5.02, 0.49), (5.13, 0.36), (5.25, 0.62), (5.36, 0.75),
            (5.47, 1.02), (5.58, 1.28), (5.69, 1.15), (5.81, 0.62), (5.88, 0.23), (5.99, 0.62), (6.1, 1.15),
            (6.22, 1.28), (6.33, 1.02), (6.44, 1.15), (6.55, 0.62), (6.66, 0.75), (6.78, 1.02), (6.89, 0.62),
            (7.0, 0.23), (7.11, 0.62), (7.22, 0.95), (7.34, 0.75), (7.45, 0.49), (7.56, 0.89), (7.67, 1.67),
            (7.78, 1.93), (7.9, 1.8), (8.01, 1.54), (8.12, 1.8), (8.23, 2.07), (8.34, 2.2), (8.46, 2.07),
            (8.57, 2.2), (8.68, 2.07), (8.79, 2.33), (8.9, 2.46), (9.01, 2.72), (9.13, 2.33), (9.24, 1.93),
            (9.35, 2.07), (9.46, 1.67), (9.57, 1.15), (9.69, 0.75), (9.8, 0.49), (9.87, 0.23), (9.95, 0.62),
            (10, 0.89)]

p6_magenta = [(0, 0.56), (0.13, 0.36), (0.25, 0.1), (0.36, 0.23), (0.47, 0.49), (0.58, 0.75), (0.69, 0.89),
              (0.77, 0.75), (0.88, 0.36), (0.99, -0.03), (1.1, 0.23), (1.22, -0.3), (1.33, -0.43), (1.44, -0.1),
              (1.55, 0.1), (1.66, -0.16), (1.78, -0.43), (1.89, -0.69), (2.0, -0.82), (2.11, -1.02), (2.22, -0.82),
              (2.34, -0.69), (2.45, -0.3), (2.56, -0.56), (2.67, -0.43), (2.78, -0.82), (2.9, -0.56), (3.01, -0.43),
              (3.12, -0.16), (3.23, 0.1), (3.31, 0.23), (3.42, -0.1), (3.53, -0.36), (3.64, -0.69), (3.75, -0.95),
              (3.87, -1.08), (3.98, -1.48), (4.09, -1.21), (4.2, -1.08), (4.31, -1.21), (4.43, -1.54),
              (4.54, -1.08), (4.65, -0.82), (4.76, -0.69), (4.87, -0.43), (4.99, 0.1), (5.1, -0.43), (5.21, -0.69),
              (5.32, -0.56), (5.43, -0.69), (5.54, -0.3), (5.66, -0.43), (5.77, -0.69), (5.88, -0.82),
              (5.99, -0.95), (6.1, -0.69), (6.22, -0.43), (6.33, -0.03), (6.44, 0.23), (6.51, 0.49), (6.63, 0.23),
              (6.74, -0.03), (6.85, -0.16), (6.96, 0.1), (7.07, 0.23), (7.19, -0.03), (7.3, -0.43), (7.41, -0.82),
              (7.52, -1.48), (7.63, -1.74), (7.75, -2.13), (7.86, -2.66), (7.97, -2.92), (8.08, -3.18),
              (8.19, -3.38), (8.31, -3.44), (8.42, -3.18), (8.53, -3.25), (8.64, -3.44), (8.75, -3.84),
              (8.83, -4.1), (8.94, -3.84), (9.05, -3.7), (9.16, -3.57), (9.28, -3.44), (9.39, -3.18), (9.5, -3.31),
              (9.61, -3.05), (9.72, -3.18), (9.84, -3.44), (9.95, -3.57), (10, -3.7)]

p6_cyan = [(0, -0.16), (0.13, -0.43), (0.25, -0.56), (0.36, -0.49), (0.47, -0.3), (0.58, -0.43), (0.69, -0.16),
           (0.81, -0.03), (0.92, 0.1), (1.03, -0.03), (1.14, -0.3), (1.25, -0.56), (1.37, -0.69), (1.48, -0.82),
           (1.59, -0.56), (1.7, -0.82), (1.81, -1.08), (1.93, -1.21), (2.04, -1.02), (2.15, -1.08), (2.26, -0.95),
           (2.37, -1.08), (2.49, -1.34), (2.6, -1.61), (2.71, -2.0), (2.82, -2.26), (2.93, -2.0), (3.04, -2.26),
           (3.16, -1.87), (3.27, -1.61), (3.38, -1.48), (3.49, -1.34), (3.6, -1.08), (3.72, -0.82), (3.83, -0.95),
           (3.94, -1.08), (4.05, -1.21), (4.16, -1.48), (4.28, -1.08), (4.39, -0.95), (4.5, -1.21), (4.61, -1.08),
           (4.72, -0.82), (4.84, -0.69), (4.95, -0.56), (5.06, -0.43), (5.17, -0.82), (5.28, -1.21), (5.4, -1.08),
           (5.51, -0.95), (5.62, -1.08), (5.73, -0.95), (5.84, -1.08), (5.96, -0.82), (6.07, -0.56), (6.18, -0.69),
           (6.29, -0.95), (6.4, -0.69), (6.51, -0.82), (6.63, -0.43), (6.74, -0.3), (6.85, -0.16), (6.96, -0.43),
           (7.07, -0.3), (7.19, -0.56), (7.3, -0.82), (7.41, -0.43), (7.52, -0.16), (7.63, 0.23), (7.75, 0.62),
           (7.86, 0.36), (7.97, -0.16), (8.08, -0.82), (8.19, -1.21), (8.31, -1.34), (8.42, -1.21), (8.53, -1.48),
           (8.64, -1.61), (8.75, -1.74), (8.87, -1.48), (8.98, -1.08), (9.09, -1.34), (9.2, -1.61), (9.31, -2.0),
           (9.43, -2.13), (9.54, -2.0), (9.65, -1.48), (9.76, -1.08), (9.87, -0.69), (9.99, -0.49)]


FIG_W, FIG_H = 1222, 1591
fig = plt.figure(figsize=(FIG_W / 100, FIG_H / 100), dpi=100)


def axes_px(left, right, top, bottom):
    return fig.add_axes([left / FIG_W, 1 - bottom / FIG_H, (right - left) / FIG_W, (bottom - top) / FIG_H])


def style(ax, ylim, ymajor, yminor, ylabel, bold, xlab_y, ylab_x):
    ax.set_xlim(0, 10)
    ax.set_ylim(*ylim)
    ax.set_xticks(TIME_TICKS)
    ax.xaxis.set_minor_locator(MultipleLocator(0.5))
    ax.yaxis.set_major_locator(MultipleLocator(ymajor))
    ax.yaxis.set_minor_locator(MultipleLocator(yminor))
    for s in ("top", "right"):
        ax.spines[s].set_visible(False)
    for s in ("left", "bottom"):
        ax.spines[s].set_linewidth(2.7)
        ax.spines[s].set_color("#111111")
    ax.tick_params(which="major", direction="in", length=7, width=2.4, labelsize=16, pad=5, color="#111111")
    ax.tick_params(which="minor", direction="in", length=3, width=1.1, color="#333333")
    weight = "bold" if bold else "normal"
    ax.set_xlabel("Time", fontsize=19.5, fontweight=weight)
    ax.xaxis.set_label_coords(0.5, xlab_y)
    ax.xaxis.label.set_verticalalignment("center")
    ax.set_ylabel(ylabel, fontsize=20.5, fontweight=weight)
    ax.yaxis.set_label_coords(ylab_x, 0.5)
    ax.yaxis.label.set_verticalalignment("center")
    ax.patch.set_alpha(0)


def envelope(ax, t, hi, lo):
    dash = (0, (5, 4))
    ax.plot([0, 10], [0, 0], color=ZERO, lw=1.3, ls=dash, zorder=4)
    ax.plot(t, hi, color=DASH, lw=1.5, ls=dash, zorder=4)
    ax.plot(t, lo, color=DASH, lw=1.5, ls=dash, zorder=4)


def path(ax, t, v, color, lw=1.5):
    ax.plot(t, v, color=color, lw=lw, solid_joinstyle="round", zorder=3)


def path_pairs(ax, pairs, color, lw=1.7):
    arr = np.array(pairs)
    path(ax, arr[:, 0], arr[:, 1], color, lw)


# panel 1
ax1 = axes_px(71, 596, 8, 475)
path(ax1, p1_navy_t, p1_navy_v, NAVY)
path(ax1, p1_orange_t, p1_orange_v, ORANGE)
path(ax1, p1_cyan_t, p1_cyan_v, CYAN)
path(ax1, p1_magenta_t, p1_magenta_v, MAGENTA)
path(ax1, p1_green_t, p1_green_v, GREEN)
envelope(ax1, p1_env_t, p1_env_hi, p1_env_lo)
style(ax1, (-3.17, 2.9), 1, 0.2, "x(t)", True, -0.082, -0.093)

# panel 2
ax2 = axes_px(682, 1195, 24, 476)
path_pairs(ax2, p2_cyan, CYAN)
path_pairs(ax2, p2_navy, NAVY)
path_pairs(ax2, p2_magenta, MAGENTA)
path_pairs(ax2, p2_orange, ORANGE)
path_pairs(ax2, p2_green, GREEN)
envelope(ax2, p2_env_t, p2_env_hi, p2_env_lo)
style(ax2, (-1.69, 1.67), 1, 0.2, "u(t)", False, -0.082, -0.08)

# panel 3
ax3 = axes_px(71, 596, 550, 1011)
path(ax3, p3_cyan_t, p3_cyan_v, CYAN)
path(ax3, p3_orange_t, p3_orange_v, ORANGE)
path(ax3, p3_navy_t, p3_navy_v, NAVY)
path(ax3, p3_magenta_t, p3_magenta_v, MAGENTA)
path(ax3, p3_green_t, p3_green_v, GREEN)
envelope(ax3, p3_env_t, p3_env_hi, p3_env_lo)
style(ax3, (-20, 20), 10, 2, "x(t)", True, -0.08, -0.093)

# panel 4
ax4 = axes_px(682, 1188, 556, 1012)
path_pairs(ax4, p4_cyan, CYAN)
path_pairs(ax4, p4_orange, ORANGE)
path_pairs(ax4, p4_magenta, MAGENTA)
path_pairs(ax4, p4_navy, NAVY)
path_pairs(ax4, p4_green, GREEN)
envelope(ax4, p4_env_t, p4_env_hi, p4_env_lo)
style(ax4, (-4, 4), 1, 0.2, "u(t)", True, -0.075, -0.1)

# panel 5
ax5 = axes_px(71, 596, 1083, 1542)
path(ax5, p5_navy_t, p5_navy_v, NAVY)
path(ax5, p5_cyan_t, p5_cyan_v, CYAN)
path(ax5, p5_magenta_t, p5_magenta_v, MAGENTA)
path(ax5, p5_orange_t, p5_orange_v, ORANGE)
path(ax5, p5_green_t, p5_green_v, GREEN)
envelope(ax5, p5_env_t, p5_env_hi, p5_env_lo)
style(ax5, (-21.9, 22.0), 10, 2, "x(t)", True, -0.077, -0.093)

# panel 6
ax6 = axes_px(677, 1198, 1071, 1530)
path_pairs(ax6, p6_navy, NAVY)
path_pairs(ax6, p6_cyan, CYAN)
path_pairs(ax6, p6_magenta, MAGENTA)
path_pairs(ax6, p6_orange, ORANGE)
path_pairs(ax6, p6_green, GREEN)
envelope(ax6, p6_env_t, p6_env_hi, p6_env_lo)
style(ax6, (-4.5, 4.5), 1, 0.2, "u(t)", True, -0.083, -0.095)

fig.savefig("out.png", dpi=100, facecolor="white")
